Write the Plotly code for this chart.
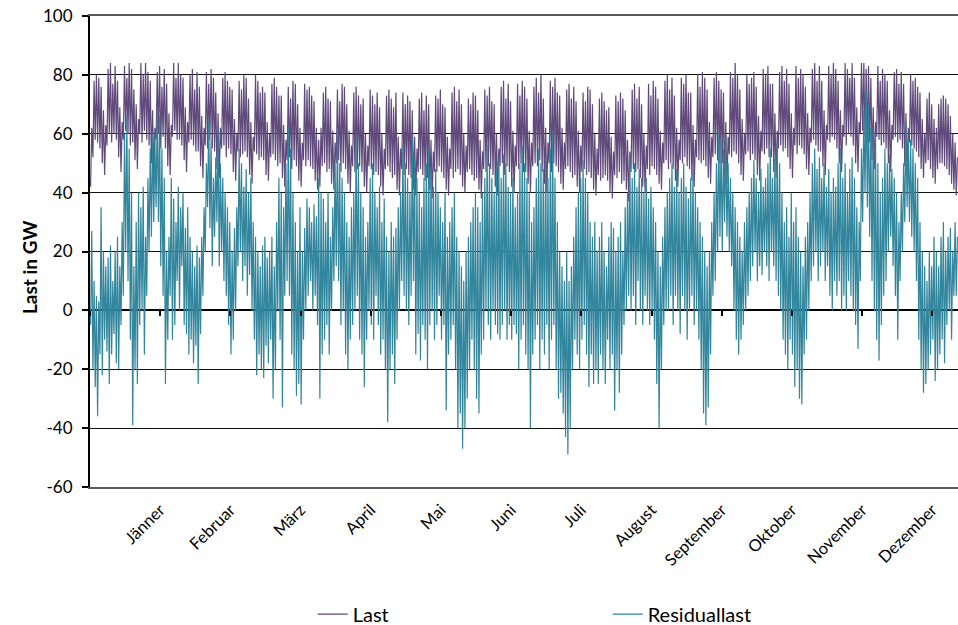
import plotly.graph_objects as go

# ---------------- data (read/, GW) ----------------
months = ["Jänner", "Februar", "März", "April", "Mai", "Juni", "Juli",
          "August", "September", "Oktober", "November", "Dezember"]
month_ticks = [30, 60, 90, 120, 150, 180, 210, 240, 270, 300, 330, 360]
boundary_ticks = [0, 30, 60, 90, 120, 150, 180, 210, 240, 270, 300, 330, 360]
y_ticks = [-60, -40, -20, 0, 20, 40, 60, 80, 100]
y_tick_text = ["-60", "-40", "-20", "0", "20", "40", "60", "80", "100"]

# Last: daily high / low (one week per row)
last_max = [
    62, 78, 80, 79, 76, 68, 63,
    82, 84, 77, 83, 78, 69, 64,
    83, 79, 84, 82, 75, 70, 65,
    84, 80, 84, 81, 78, 68, 62,
    81, 83, 76, 82, 77, 67, 63,
    84, 79, 84, 80, 79, 69, 64,
    80, 82, 75, 81, 76, 66, 62,
    81, 77, 82, 79, 74, 67, 62,
    79, 81, 78, 76, 75, 65, 60,
    78, 75, 80, 79, 72, 64, 59,
    80, 78, 74, 76, 74, 64, 60,
    77, 79, 76, 73, 73, 63, 58,
    76, 72, 78, 77, 70, 62, 57,
    77, 75, 76, 73, 71, 62, 58,
    62, 74, 76, 72, 71, 61, 57,
    75, 71, 77, 76, 70, 61, 56,
    74, 76, 73, 70, 72, 60, 56,
    75, 73, 70, 74, 69, 60, 55,
    73, 75, 72, 69, 74, 59, 55,
    74, 70, 73, 71, 68, 59, 55,
    72, 74, 68, 73, 70, 58, 54,
    73, 72, 75, 70, 69, 59, 55,
    74, 76, 71, 75, 70, 60, 56,
    72, 70, 74, 73, 68, 58, 54,
    75, 73, 76, 71, 70, 60, 55,
    76, 78, 72, 77, 71, 61, 56,
    77, 73, 78, 76, 72, 61, 57,
    76, 79, 74, 80, 72, 62, 57,
    78, 76, 79, 74, 73, 62, 57,
    75, 77, 72, 76, 71, 61, 56,
    74, 71, 76, 75, 70, 60, 55,
    72, 74, 71, 68, 69, 59, 54,
    73, 71, 74, 72, 68, 58, 54,
    75, 77, 72, 76, 70, 60, 56,
    77, 73, 78, 76, 72, 61, 57,
    78, 80, 75, 79, 73, 62, 58,
    79, 77, 80, 74, 74, 63, 58,
    80, 76, 81, 79, 75, 64, 59,
    79, 81, 78, 75, 74, 64, 59,
    81, 79, 84, 80, 75, 65, 60,
    80, 77, 79, 81, 76, 66, 61,
    82, 80, 83, 77, 77, 67, 61,
    81, 83, 78, 82, 77, 67, 62,
    83, 79, 82, 80, 76, 67, 62,
    82, 84, 78, 83, 78, 68, 63,
    83, 80, 84, 82, 78, 68, 63,
    84, 82, 79, 84, 79, 69, 64,
    84, 84, 82, 83, 79, 69, 64,
    83, 78, 82, 80, 78, 68, 63,
    81, 82, 77, 81, 77, 67, 62,
    80, 78, 79, 76, 74, 65, 60,
    72, 74, 70, 65, 62, 70, 72,
    73, 72, 70, 66, 60, 57, 52,
]
last_min = [
    42, 52, 58, 57, 55, 50, 46,
    56, 60, 57, 60, 58, 52, 47,
    58, 61, 60, 56, 57, 51, 48,
    60, 57, 61, 58, 56, 50, 46,
    58, 60, 55, 59, 55, 49, 46,
    59, 61, 58, 58, 56, 51, 47,
    57, 58, 56, 54, 54, 49, 45,
    56, 55, 58, 55, 54, 48, 45,
    55, 56, 52, 55, 53, 47, 44,
    54, 52, 53, 54, 52, 46, 43,
    54, 53, 51, 52, 51, 46, 44,
    52, 53, 51, 49, 50, 45, 42,
    51, 52, 48, 51, 49, 44, 42,
    51, 49, 51, 49, 48, 44, 41,
    42, 49, 50, 47, 48, 43, 41,
    50, 51, 47, 50, 48, 43, 40,
    49, 47, 48, 49, 47, 42, 40,
    49, 48, 46, 47, 46, 42, 39,
    48, 49, 47, 45, 46, 41, 39,
    48, 46, 48, 46, 45, 41, 39,
    47, 48, 46, 44, 45, 41, 38,
    47, 47, 49, 47, 45, 41, 39,
    48, 45, 47, 48, 46, 42, 40,
    47, 48, 46, 44, 45, 41, 38,
    48, 47, 49, 48, 46, 42, 39,
    49, 50, 46, 49, 47, 42, 40,
    49, 48, 50, 47, 47, 43, 40,
    49, 50, 49, 51, 47, 43, 40,
    50, 47, 50, 49, 47, 43, 41,
    48, 49, 47, 45, 46, 42, 40,
    47, 48, 46, 47, 45, 41, 39,
    46, 44, 45, 46, 44, 40, 38,
    46, 45, 47, 43, 44, 41, 37,
    47, 48, 47, 48, 45, 42, 40,
    48, 46, 49, 48, 46, 43, 41,
    50, 51, 48, 50, 48, 44, 42,
    51, 50, 52, 49, 48, 44, 42,
    52, 51, 50, 51, 49, 45, 43,
    52, 53, 51, 50, 50, 45, 43,
    53, 52, 54, 53, 50, 46, 44,
    53, 54, 51, 53, 51, 46, 44,
    54, 53, 55, 52, 52, 47, 45,
    55, 56, 54, 55, 52, 48, 45,
    56, 53, 56, 55, 53, 48, 46,
    57, 58, 56, 54, 54, 49, 46,
    58, 57, 59, 58, 55, 50, 47,
    59, 56, 60, 59, 56, 50, 47,
    60, 61, 59, 57, 57, 51, 48,
    59, 58, 56, 57, 55, 50, 47,
    58, 59, 57, 58, 55, 49, 46,
    57, 56, 55, 54, 52, 48, 45,
    50, 51, 48, 45, 43, 48, 50,
    50, 49, 48, 46, 43, 41, 39,
]

# Residuallast: daily high / low (one week per row)
res_max = [
    27, 10, 5, 3, 35, 20, 15,
    18, 22, 10, 20, 25, 15, 30,
    60, 66, 55, 40, 15, 30, 40,
    35, 42, 25, 45, 55, 60, 58,
    68, 66, 55, 45, 20, 25, 45,
    38, 30, 42, 35, 40, 28, 35,
    25, 20, 15, 22, 18, 25, 35,
    50, 65, 58, 45, 52, 62, 50,
    45, 40, 35, 30, 20, 28, 35,
    55, 50, 42, 48, 40, 45, 30,
    25, 20, 15, 22, 25, 18, 20,
    25, 15, 30, 45, 40, 35, 50,
    62, 55, 40, 30, 20, 35, 20,
    28, 38, 35, 30, 36, 32, 45,
    40, 38, 30, 40, 25, 35, 50,
    62, 50, 45, 40, 30, 25, 35,
    40, 59, 50, 40, 35, 25, 30,
    45, 50, 40, 35, 42, 30, 38,
    25, 20, 30, 25, 28, 35, 40,
    56, 50, 45, 40, 59, 52, 45,
    40, 35, 45, 50, 55, 48, 42,
    48, 40, 35, 30, 40, 25, 30,
    35, 40, 25, 20, 15, 10, 20,
    25, 30, 35, 40, 35, 30, 40,
    45, 56, 50, 45, 40, 48, 52,
    45, 53, 50, 42, 40, 45, 35,
    40, 50, 56, 50, 45, 40, 30,
    35, 45, 55, 50, 48, 52, 45,
    55, 61, 45, 30, 20, 15, 10,
    20, 10, 15, 25, 35, 40, 45,
    51, 45, 40, 30, 25, 30, 20,
    25, 30, 20, 15, 25, 30, 28,
    20, 25, 30, 20, 35, 40, 52,
    45, 50, 42, 48, 45, 40, 45,
    38, 42, 35, 30, 20, 15, 25,
    35, 40, 45, 50, 42, 48, 40,
    45, 50, 42, 38, 45, 48, 40,
    35, 30, 25, 20, 15, 20, 30,
    40, 50, 61, 58, 55, 59, 50,
    45, 40, 35, 30, 25, 20, 30,
    35, 40, 45, 51, 45, 40, 48,
    42, 45, 50, 55, 45, 52, 58,
    50, 40, 30, 35, 25, 40, 30,
    35, 25, 20, 15, 25, 30, 40,
    50, 55, 48, 52, 45, 50, 42,
    48, 40, 45, 42, 50, 55, 45,
    50, 40, 48, 52, 45, 35, 30,
    55, 68, 75, 70, 62, 62, 60,
    50, 40, 45, 55, 50, 53, 48,
    45, 40, 30, 40, 50, 64, 58,
    58, 55, 50, 45, 30, 20, 15,
    10, 20, 15, 25, 20, 15, 25,
    30, 20, 25, 28, 20, 30, 25,
]
res_min = [
    -5, -20, -26, -36, -15, -22, -10,
    -14, -25, -15, -8, -18, -20, -5,
    5, 20, 10, -10, -39, -20, -25,
    -5, 0, -15, 5, 20, 25, 30,
    35, 30, 15, 5, -25, -10, 5,
    -10, -5, 10, 0, 15, -5, -8,
    -15, -10, -18, -12, -25, -8, 5,
    20, 35, 28, 15, 25, 30, 15,
    20, 10, 5, -5, -15, -10, 0,
    15, 20, 10, 15, 5, 12, 0,
    -10, -22, -15, -20, -23, -12, -18,
    -10, -30, -20, 0, -10, -33, 5,
    10, 5, -15, -20, -29, -25, -32,
    -10, 0, 5, 10, 0, 5, -5,
    -30, -15, -10, -5, -15, 0, 10,
    15, 10, -5, 0, -15, -20, -10,
    -5, 0, 5, -10, -15, -26, -10,
    0, -5, -10, 5, -5, -15, -10,
    -20, -38, -20, -15, -25, -10, 0,
    10, 5, 0, -5, 5, 10, -15,
    -8, -17, -5, -10, -20, -5, 0,
    -10, -5, 5, -10, -5, -34, -15,
    -10, -5, -20, -40, -35, -47, -40,
    -30, -20, -10, -20, -30, -35, -15,
    -10, 0, -5, -10, 0, -5, -8,
    -10, -5, 0, -10, -5, -10, -5,
    -8, -20, -10, -5, -15, -20, -40,
    -15, -10, -5, -20, -10, -15, -5,
    -20, -10, -5, -20, -30, -28, -35,
    -43, -49, -40, -20, -10, -15, -20,
    -10, -5, -15, -26, -15, -25, -20,
    -25, -15, -20, -25, -10, -20, -15,
    -34, -20, -28, -15, -5, 0, 5,
    0, 5, -5, 10, 0, -5, 5,
    0, -5, 0, -10, -25, -40, -20,
    -5, 0, 0, 5, -5, 5, 0,
    -8, 5, 0, -10, 0, 5, -5,
    0, -10, -20, -35, -39, -33, -15,
    5, 10, 20, 25, 20, 30, 25,
    20, 15, 0, -10, -15, -10, -5,
    0, 5, 10, 15, 20, 10, 15,
    12, 20, 15, 10, 20, 15, 10,
    5, 0, -10, -15, -20, -10, -15,
    -26, -20, -30, -32, -15, -10, 0,
    10, 15, 20, 10, 15, 20, 10,
    15, 5, 0, 10, 5, 10, 0,
    5, 0, 10, 5, 0, -5, -13,
    10, 30, 40, 35, 25, 10, 0,
    -10, -17, -5, 5, 10, 20, 25,
    15, 5, -10, 10, 20, 30, 35,
    30, 25, 20, 10, -10, -20, -28,
    -25, -20, -15, -10, -24, -20, -15,
    -10, -18, -5, 0, -10, 5, 5,
]


def day_series(lows, highs):
    """Place each day's low and high within that day (x in days)."""
    xs, ys = [], []
    for d, (lo, hi) in enumerate(zip(lows, highs)):
        xs += [d + 0.25, d + 0.75]
        ys += [lo, hi]
    return xs, ys


x_last, y_last = day_series(last_min, last_max)
x_res, y_res = day_series(res_min, res_max)

FONT = "Lato, Carlito, Calibri, 'Open Sans', sans-serif"

fig = go.Figure()
fig.add_trace(go.Scatter(x=x_last, y=y_last, mode="lines", name="Last",
                         line=dict(color="#604A7B", width=1.2)))
fig.add_trace(go.Scatter(x=x_res, y=y_res, mode="lines", name="Residuallast",
                         line=dict(color="#31859C", width=1.2)))
# empty helper trace so the tick axis on the zero line is drawn
fig.add_trace(go.Scatter(x=[], y=[], xaxis="x2", showlegend=False,
                         hoverinfo="skip"))

fig.update_layout(
    width=958, height=625,
    margin=dict(l=90, r=0, t=16, b=138, autoexpand=False),
    paper_bgcolor="white", plot_bgcolor="white",
    font=dict(family=FONT, color="black", size=16),
    showlegend=True,
    legend=dict(orientation="h", x=0.2566, xanchor="left", y=-0.27,
                yanchor="middle", font=dict(size=20, family=FONT),
                entrywidth=250, entrywidthmode="pixels",
                bgcolor="rgba(0,0,0,0)"),
    xaxis=dict(range=[0, 371], tickmode="array", tickvals=month_ticks,
               ticktext=months, tickangle=-45, ticks="", showgrid=False,
               zeroline=False, showline=True, linecolor="#595959",
               linewidth=1.5, mirror=True, tickfont=dict(size=16.5),
               ticklabelstandoff=5, automargin=False),
    xaxis2=dict(overlaying="x", anchor="free", position=0.375,
                range=[0, 371], tickmode="array", tickvals=boundary_ticks,
                ticks="outside", ticklen=5, tickwidth=1.5, tickcolor="black",
                showticklabels=False, showgrid=False, zeroline=False,
                showline=False),
    yaxis=dict(range=[-60, 100], tickmode="array", tickvals=y_ticks,
               ticktext=y_tick_text, showgrid=True,
               gridcolor="#111111", gridwidth=1.3, showline=True,
               linecolor="black", linewidth=2, ticks="outside", ticklen=6,
               tickwidth=1.5, tickcolor="black", zeroline=True,
               zerolinecolor="black", zerolinewidth=2,
               tickfont=dict(size=17), ticklabelstandoff=6,
               automargin=False),
    annotations=[dict(text="<b>Last in GW</b>", xref="paper", yref="paper",
                      x=-0.0691, y=0.465, xanchor="center", yanchor="middle",
                      textangle=-90, showarrow=False,
                      font=dict(size=19, family=FONT, color="black"))],
)

fig.write_html("out.html")
